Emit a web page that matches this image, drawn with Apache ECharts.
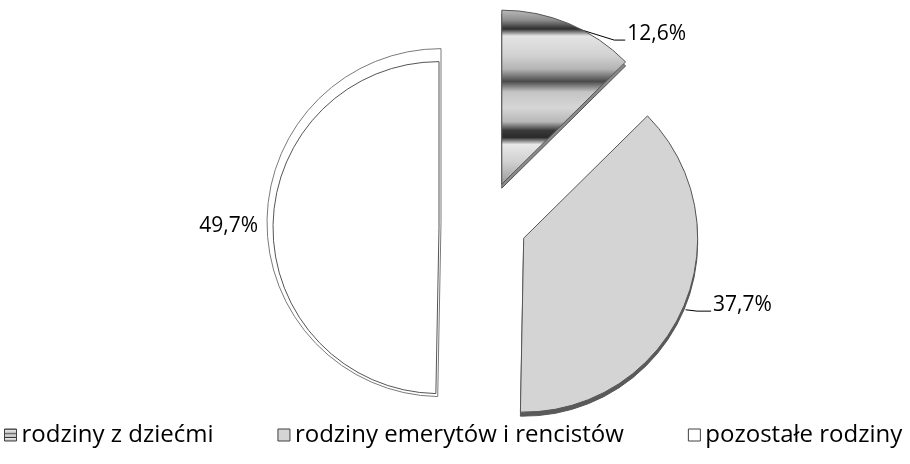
<!DOCTYPE html>
<html>
<head>
<meta charset="utf-8">
<script src="https://cdn.jsdelivr.net/npm/echarts@6/dist/echarts.min.js"></script>
<style>
  html, body { margin: 0; padding: 0; background: #fff; }
  #chart { width: 910px; height: 464px; }
</style>
</head>
<body>
<div id="chart"></div>
<script>
// Struktura rodzin — exploded pie
const categories = ['rodziny z dziećmi', 'rodziny emerytów i rencistów', 'pozostałe rodziny']
const shares = [12.6, 37.7, 49.7]

const FONT = '"Open Sans", "DejaVu Sans", sans-serif'
const CENTER = [486, 222]
const RADIUS = 174
const OFFSET = 41

// metallic banded fill of the small slice
const metal = {
  type: 'linear', x: 0, y: 0, x2: 0, y2: 1,
  colorStops: [
    { offset: 0.00, color: '#bdbdbd' },
    { offset: 0.06, color: '#8c8c8c' },
    { offset: 0.11, color: '#2e2e2e' },
    { offset: 0.15, color: '#e4e4e4' },
    { offset: 0.26, color: '#d2d2d2' },
    { offset: 0.34, color: '#b4b4b4' },
    { offset: 0.41, color: '#4a4a4a' },
    { offset: 0.47, color: '#c4c4c4' },
    { offset: 0.56, color: '#d6d6d6' },
    { offset: 0.64, color: '#b8b8b8' },
    { offset: 0.69, color: '#3a3a3a' },
    { offset: 0.73, color: '#2a2a2a' },
    { offset: 0.77, color: '#e8e8e8' },
    { offset: 0.87, color: '#d0d0d0' },
    { offset: 1.00, color: '#9a9a9a' },
  ],
}

const faceColors = [metal, '#d4d4d4', '#ffffff']
// 3d look: dark rim under the two right slices, a larger outline behind the white one
const rimColors = ['#8a8a8a', '#5a5a5a', null]

const labelLines = [
  { length: 6, length2: 40, show: true },
  { length: 6, length2: 14, show: true },
  { length: 2, length2: 8, show: false },
]
// nudges so the leaders end on the text baseline like in the source
const labelShift = [{ dx: 11, dy: 16, bend: 13 }, { dx: 5, dy: -4, bend: 16 }, null]

const fmt = (v) => v.toFixed(1).replace('.', ',') + '%'

function placeLabel(p) {
  const s = labelShift[p.dataIndex]
  if (!s || !p.labelLinePoints) return {}
  const r = p.labelRect
  const left = r.x + s.dx
  const base = r.y + r.height / 2 + s.dy + 6
  const start = p.labelLinePoints[0]
  return {
    dx: s.dx, dy: s.dy,
    labelLinePoints: [[start[0] + 2, start[1] + 3], [left - s.bend, base], [left - 2, base]],
  }
}

// one pie layer; slices whose colour is null are left out (transparent)
function layer(colors, opts) {
  const withLabels = !!opts.labels
  return {
    type: 'pie',
    center: opts.center,
    radius: opts.radius,
    startAngle: 90,
    clockwise: true,
    selectedMode: 'multiple',
    selectedOffset: OFFSET,
    avoidLabelOverlap: false,
    silent: true,
    z: opts.z,
    emphasis: { disabled: true },
    label: withLabels ? {
      show: true,
      position: 'outside',
      fontFamily: FONT,
      fontSize: 21,
      color: '#000',
      formatter: (p) => fmt(p.value),
    } : { show: false },
    labelLine: { show: withLabels, lineStyle: { color: '#000', width: 1 }, smooth: false },
    labelLayout: withLabels ? placeLabel : null,
    data: categories.map((name, i) => {
      const on = colors[i] != null
      const style = {
        color: on ? colors[i] : 'transparent',
        borderColor: on ? opts.border : 'transparent',
        borderWidth: on ? 1 : 0,
      }
      return {
        name,
        value: shares[i],
        selected: true,
        itemStyle: style,
        select: { itemStyle: style },
        label: { show: withLabels && on },
        labelLine: on && withLabels ? labelLines[i] : { show: false },
      }
    }),
  }
}

const chart = echarts.init(document.getElementById('chart'))
chart.setOption({
  animation: false,
  legend: {
    left: 4,
    top: 423,
    padding: 0,
    orient: 'horizontal',
    itemWidth: 12,
    itemHeight: 12,
    itemGap: 64,
    icon: 'rect',
    selectedMode: false,
    textStyle: { fontFamily: FONT, fontSize: 24, color: '#000' },
    itemStyle: { borderWidth: 1, borderColor: '#404040' },
    data: categories.map((name, i) => ({ name, itemStyle: { color: faceColors[i] } })),
  },
  series: [
    // top faces of the two right slices
    layer([faceColors[0], faceColors[1], null], { center: CENTER, radius: RADIUS, z: 4, border: '#555', labels: true }),
    // top face of the white slice, a bit smaller and lower
    layer([null, null, faceColors[2]], { center: [CENTER[0] - 6, CENTER[1] + 6], radius: 166, z: 4, border: '#555', labels: true }),
    // rims
    layer(rimColors, { center: [CENTER[0], CENTER[1] + 4], radius: RADIUS, z: 2, border: '#555' }),
    layer([null, null, '#ffffff'], { center: [CENTER[0] - 4, CENTER[1] + 1], radius: RADIUS, z: 1, border: '#7a7a7a' }),
  ],
})
</script>
</body>
</html>
